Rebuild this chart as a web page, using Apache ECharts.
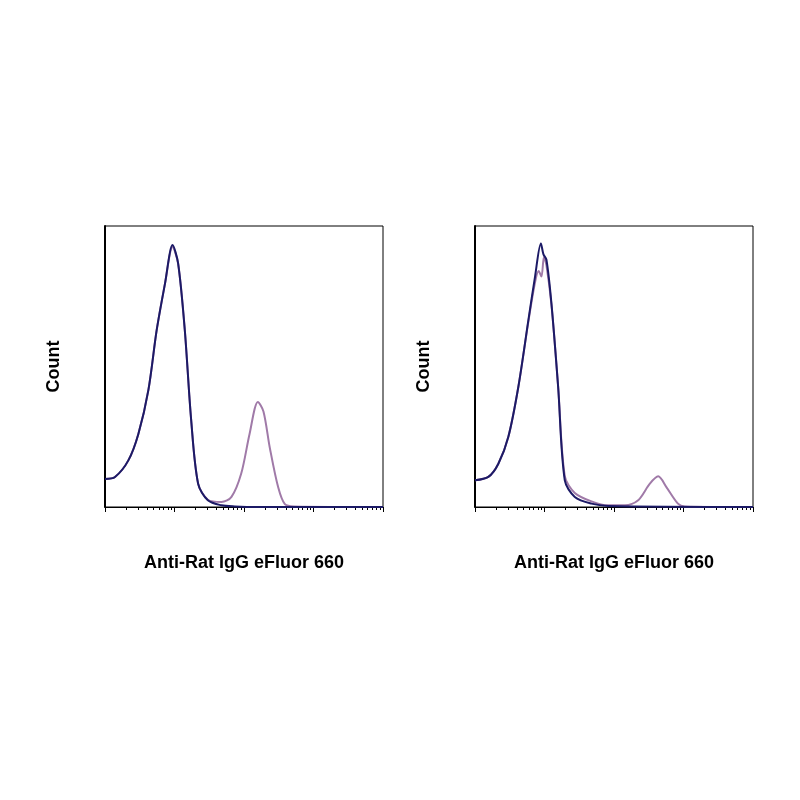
<!DOCTYPE html><html><head><meta charset="utf-8"><script src="https://cdn.jsdelivr.net/npm/echarts@6/dist/echarts.min.js"></script></head><body style="margin:0"><div id="c" style="width:800px;height:800px"></div><script>
const xLabel = "Anti-Rat IgG eFluor 660";
const yLabel = "Count";
// channel (0-100, = 4 log decades) and count (% of max)
const leftNavyX = [0,3.6,8.4,12,15.6,18.6,21.6,24.3,26.3,28.7,31,33.5,37,41.9,46.7,55,100];
const leftNavyY = [10,10.7,16.6,26,41.6,63,79.6,93.2,86.7,63,30.9,8.3,2.4,0.6,0.2,0,0];
const leftPurpX = [0,3.6,8.4,12,15.6,18.6,21.6,24.3,26.3,28.7,31,33.5,37,41.9,45.5,49,52,55,57,59.3,62.3,64.7,68,100];
const leftPurpY = [10,10.7,16.6,26,41.6,63,79.6,92.5,86.7,63,30.9,8.3,2.6,1.8,3.6,11.9,26,37.4,34,21,7,1,0.2,0];
const rightNavyX = [0,4.8,8.4,12,15.6,19.2,21.6,23.7,24.6,25.7,27.5,29.9,32.3,35.9,41.9,47.9,100];
const rightNavyY = [9.5,10.7,15.4,25,42.8,66.5,82,93.8,90,88,72.4,42.8,9.5,3.6,1.2,0.4,0];
const rightPurpX = [0,4.8,8.4,12,15.6,19.2,21.6,22.9,23.9,24.8,25.7,27.5,29.9,32.3,35.9,41.9,47.9,53.9,58.7,62.9,65.9,68.9,73,75.4,100];
const rightPurpY = [9.5,10.7,15.4,25,42.8,66,80,84,82,89,86,72,43,11,5,2,0.6,0.6,2.4,8.3,10.9,7,1.2,0.2,0];
const toFl = v => Math.pow(10, v/25);
const pairs = (xs, ys) => xs.map((x,i)=>[toFl(x), ys[i]]);
const grids = [{left:105,top:226,width:278,height:281},{left:475,top:226,width:278,height:281}];
const ch = echarts.init(document.getElementById('c'));
const font = {color:'#000',fontSize:18,fontWeight:'bold',fontFamily:'Liberation Sans'};
const mkX = i => ({type:'log',gridIndex:i,min:1,max:10000,logBase:10,
  axisLine:{lineStyle:{color:'#000',width:1}},axisTick:{show:true,length:5,inside:false,lineStyle:{color:'#000'}},
  minorTick:{show:true,splitNumber:9,length:3,lineStyle:{color:'#000'}},axisLabel:{show:false},splitLine:{show:false},
  name:xLabel,nameLocation:'middle',nameGap:47,nameTextStyle:font});
const mkY = i => ({type:'value',gridIndex:i,min:0,max:100,axisLine:{show:true,lineStyle:{color:'#000',width:2}},
  axisTick:{show:false},axisLabel:{show:false},splitLine:{show:false},
  name:yLabel,nameLocation:'middle',nameGap:42,nameTextStyle:font});
const line = (i,d,c,z) => ({type:'line',xAxisIndex:i,yAxisIndex:i,data:d,symbol:'none',smooth:0.3,z:z,lineStyle:{color:c,width:2}});
ch.setOption({animation:false,
  grid:grids.map(g=>Object.assign({show:true,borderColor:'#000',borderWidth:1},g)),
  xAxis:[mkX(0),mkX(1)],yAxis:[mkY(0),mkY(1)],
  series:[line(0,pairs(leftPurpX,leftPurpY),'#a07aa8',2),line(0,pairs(leftNavyX,leftNavyY),'#1c1a66',3),
          line(1,pairs(rightPurpX,rightPurpY),'#a07aa8',2),line(1,pairs(rightNavyX,rightNavyY),'#1c1a66',3)]});
</script></body></html>
